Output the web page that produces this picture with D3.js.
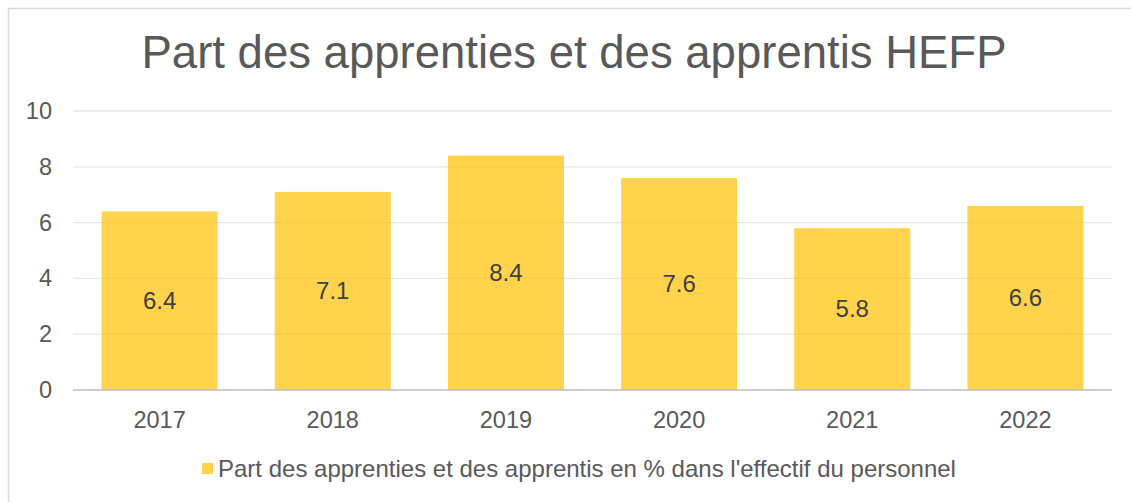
<!DOCTYPE html>
<html>
<head>
<meta charset="utf-8">
<script src="https://cdn.jsdelivr.net/npm/d3@7"></script>
<style>
  body { margin: 0; background: #fff; }
  text { font-family: "Liberation Sans", Arial, sans-serif; }
</style>
</head>
<body>
<div id="chart"></div>
<script>
var svgWidth = 1131;
var svgHeight = 502;

// Chart data
var years = ["2017", "2018", "2019", "2020", "2021", "2022"];
var shares = [6.4, 7.1, 8.4, 7.6, 5.8, 6.6];
var yTicks = [0, 2, 4, 6, 8, 10];
var chartTitle = "Part des apprenties et des apprentis HEFP";
var seriesName = "Part des apprenties et des apprentis en % dans l'effectif du personnel";

var margin = { top: 111, right: 19, bottom: 112, left: 73 };
var width = svgWidth - margin.left - margin.right;
var height = svgHeight - margin.top - margin.bottom;

var svg = d3.select("#chart")
  .append("svg")
  .attr("width", svgWidth)
  .attr("height", svgHeight);

// chart frame (right/bottom edges fall outside the picture)
svg.append("rect")
  .attr("x", 8.5)
  .attr("y", 8.5)
  .attr("width", svgWidth + 20)
  .attr("height", svgHeight + 20)
  .attr("fill", "none")
  .attr("stroke", "#d9d9d9")
  .attr("stroke-width", 1.5);

svg.append("text")
  .attr("x", 574)
  .attr("y", 68)
  .attr("text-anchor", "middle")
  .attr("font-size", "45.5px")
  .attr("fill", "#595959")
  .text(chartTitle);

var chartGroup = svg.append("g")
  .attr("transform", `translate(${margin.left}, ${margin.top})`);

var xScale = d3.scaleBand()
  .domain(years)
  .range([0, width])
  .paddingInner(0.33)
  .paddingOuter(0.165);

var yScale = d3.scaleLinear()
  .domain([0, 10])
  .range([height, 0]);

// gridlines
chartGroup.selectAll(".grid")
  .data(yTicks.filter(d => d > 0))
  .enter()
  .append("line")
  .attr("x1", 0)
  .attr("x2", width)
  .attr("y1", d => yScale(d))
  .attr("y2", d => yScale(d))
  .attr("stroke", "#e6e6e6")
  .attr("stroke-width", 1.3);

// bars
chartGroup.selectAll(".bar")
  .data(shares)
  .enter()
  .append("rect")
  .attr("x", (d, i) => xScale(years[i]))
  .attr("y", d => yScale(d))
  .attr("width", xScale.bandwidth())
  .attr("height", d => height - yScale(d))
  .attr("fill", "#FFC000")
  .attr("fill-opacity", 0.7);

// baseline
chartGroup.append("line")
  .attr("x1", 0)
  .attr("x2", width)
  .attr("y1", height)
  .attr("y2", height)
  .attr("stroke", "#bfbfbf")
  .attr("stroke-width", 1.5);

// value labels
chartGroup.selectAll(".label")
  .data(shares)
  .enter()
  .append("text")
  .attr("x", (d, i) => xScale(years[i]) + xScale.bandwidth() / 2)
  .attr("y", d => (yScale(d) + height) / 2)
  .attr("dy", "0.35em")
  .attr("text-anchor", "middle")
  .attr("font-size", "24px")
  .attr("fill", "#404040")
  .text(d => d.toFixed(1));

// y axis labels
var leftAxis = d3.axisLeft(yScale).tickValues(yTicks).tickSize(0).tickPadding(21);
var yAxis = chartGroup.append("g").call(leftAxis);
yAxis.select(".domain").remove();
yAxis.selectAll("text")
  .attr("font-size", "23.5px")
  .attr("fill", "#595959")
  .style("font-family", "Liberation Sans, Arial, sans-serif");

// x axis labels
var bottomAxis = d3.axisBottom(xScale).tickSize(0).tickPadding(21);
var xAxis = chartGroup.append("g")
  .attr("transform", `translate(0, ${height})`)
  .call(bottomAxis);
xAxis.select(".domain").remove();
xAxis.selectAll("text")
  .attr("font-size", "23.5px")
  .attr("fill", "#595959")
  .style("font-family", "Liberation Sans, Arial, sans-serif");

// legend
var legend = svg.append("g");
legend.append("rect")
  .attr("x", 202)
  .attr("y", 463)
  .attr("width", 11)
  .attr("height", 11)
  .attr("fill", "#FFC000")
  .attr("fill-opacity", 0.7);
legend.append("text")
  .attr("x", 218)
  .attr("y", 477)
  .attr("font-size", "24px")
  .attr("fill", "#595959")
  .text(seriesName);
</script>
</body>
</html>
